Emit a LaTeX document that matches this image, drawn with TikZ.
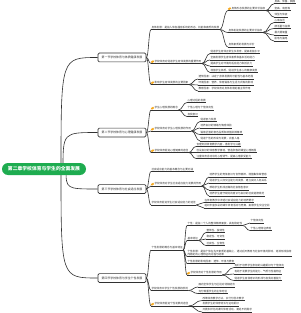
\documentclass[tikz,border=0pt]{standalone}
\usepackage{fontspec}
\setmainfont{Noto Sans CJK SC}
\usetikzlibrary{calc}
\definecolor{rootgreen}{RGB}{30,172,80}
\definecolor{ink}{RGB}{50,50,50}
\definecolor{iconorange}{RGB}{246,168,30}
\tikzset{
  itx/.style={font=\fontsize{2.6}{3.3}\selectfont, text=ink, inner xsep=0.3pt, inner ysep=0.7pt, anchor=south west},
  uline/.style={draw=ink, line width=0.85pt},
  conn/.style={draw=ink, line width=0.6pt},
  lvl/.style={draw=ink, line width=0.7pt, rounded corners=1.2pt, fill=white, minimum width=48pt, minimum height=8.8pt, inner sep=0pt, font=\fontsize{2.9}{3.5}\selectfont, text=ink},
  rootbox/.style={fill=rootgreen, rounded corners=6pt, minimum width=84pt, minimum height=12pt, inner sep=0pt, text=white, font=\fontsize{4.8}{5.5}\selectfont\bfseries},
  icn/.style={fill=iconorange, minimum width=2.8pt, minimum height=1.8pt, inner sep=0pt, rotate=35}
}
\newcommand{\itm}[4]{%
  \coordinate (#1s) at (#2,#3);
  \node[itx] (#1) at (#1s) {#4};
  \draw[uline] (#1s) -- (#1.south east);}
\newcommand{\itmi}[4]{%
  \coordinate (#1s) at (#2,#3);
  \node[icn] (#1i) at ([shift={(1.5,-1.8)}]#1s) {};
  \node[itx] (#1) at ([xshift=3pt]#1s) {#4};
  \draw[uline] (#1s) -- (#1.south east);}
\newcommand{\cn}[2]{\draw[conn] let \p1=(#1), \p2=(#2) in (\p1) .. controls ({0.5*\x1+0.5*\x2},\y1) and ({0.5*\x1+0.5*\x2},\y2) .. (\p2);}
\newcommand{\fan}[2]{\foreach \ch in {#2}{\cn{#1}{\ch s}}}
\newcommand{\rcn}[2]{\draw[conn] let \p1=(#1), \p2=(#2) in (\p1) .. controls (\x1,\y2) .. (\p2);}
\begin{document}
\begin{tikzpicture}[x=1pt,y=-1pt]
\useasboundingbox (0,0) rectangle (300,313);
\fill[white] (0,0) rectangle (300,313);
% root connectors
\coordinate (rc1) at (61,169);
\coordinate (rc2) at (63,169);
\coordinate (rc3) at (66,169);
\coordinate (rc4) at (61,169);
\node[lvl] (b1) at (122,57.5) {第一节学校体育与体质健康发展};
\node[lvl] (b2) at (122,132.5) {第二节学校体育与心理健康发展};
\node[lvl] (b3) at (122,189) {第三节学校体育与社会适应发展};
\node[lvl] (b4) at (122,278) {第四节学校体育与学生个性发展};
\rcn{rc1}{b1.west}
\rcn{rc2}{b2.west}
\rcn{rc3}{b3.west}
\rcn{rc4}{b4.west}
\node[rootbox] (root) at (44,169) {第二章学校体育与学生的全面发展};
% ---- section 1
\itm{A}{151}{29.5}{身体发展：是指人体各器官系统的形态、机能和素质的发展}
\itmi{Aa}{228}{10.5}{身体形态发展的主要评价指标}
\itm{Aaa}{274}{3.8}{身高、体重、胸围}
\itm{Aab}{274}{10.5}{坐高、肩宽等}
\itm{Aac}{274}{17}{体型与体姿}
\itm{Ab}{228}{32.5}{身体机能发展的主要评价指标}
\itm{Aba}{274}{22.5}{心率血压}
\itm{Abb}{274}{28.5}{肺活量与指数}
\itm{Abc}{274}{35}{最大摄氧量}
\itm{Abd}{274}{41}{肌电与脑电}
\itm{Ac}{228}{47}{身体素质的发展与评价}
\itmi{B}{151}{63.5}{学校体育对促进学生身体发展的重要作用}
\itm{Ba}{210}{53.5}{促进学生身体正常生长发育，提高机能水平}
\itm{Bb}{210}{60}{全面发展学生身体素质和基本活动能力}
\itm{Bc}{210}{66}{提高学生对环境的适应能力和抵抗力}
\itm{Bd}{210}{72.5}{增强学生体质，促进学生身心的健康发展}
\itmi{C}{151}{84.5}{影响学生身体发展的主要因素}
\itm{Ca}{198}{79}{遗传因素：决定了身体发展的可能性与基本范围}
\itm{Cb}{198}{85}{环境因素：营养、体育锻炼与生活方式等的影响}
\itm{Cc}{198}{91}{教育因素：学校体育对身体发展起着主导作用}
\fan{b1.east}{A,B,C}
\fan{A.south east}{Aa,Ab,Ac}
\fan{Aa.south east}{Aaa,Aab,Aac}
\fan{Ab.south east}{Aba,Abb,Abc,Abd}
\fan{B.south east}{Ba,Bb,Bc,Bd}
\fan{C.south east}{Ca,Cb,Cc}
% ---- section 2
\itmi{D}{151}{110}{学生心理发展的概念}
\itm{Da}{187}{102.5}{心理过程的发展}
\itm{Db}{187}{110}{个性心理与个性倾向性}
\itm{Dc}{187}{116.5}{自我意识}
\itmi{E}{151}{131}{学校体育对学生心理发展的作用}
\itm{Ea}{200}{121.5}{促进智力发展}
\itm{Eb}{200}{128}{培养良好的情绪与情感体验}
\itm{Ec}{200}{134.5}{锻炼坚强的意志品质和顽强拼搏精神}
\itm{Ed}{200}{141}{促进个性的形成与发展，完善人格}
\itmi{F}{151}{152.5}{学校体育促进心理健康的途径}
\itm{Fa}{196}{146.5}{合理安排体育教学内容，激发学习兴趣}
\itm{Fb}{196}{152.5}{创设良好的体育教学情境，营造积极的课堂心理氛围}
\itm{Fc}{196}{158.5}{注重体育活动中的心理调节，提高心理承受能力}
\fan{b2.east}{D,E,F}
\fan{D.south east}{Da,Db,Dc}
\fan{E.south east}{Ea,Eb,Ec,Ed}
\fan{F.south east}{Fa,Fb,Fc}
% ---- section 3
\itm{G}{151}{171.5}{社会适应能力的基本概念与主要内涵}
\itmi{H}{151}{186}{学校体育对学生社会适应能力发展的作用}
\itm{Ha}{209}{177}{培养学生的竞争意识与合作精神，增强集体荣誉感}
\itm{Hb}{209}{183}{促进学生人际交往能力的发展，建立良好人际关系}
\itm{Hc}{209}{190}{帮助学生形成正确的社会角色意识}
\itm{Hd}{209}{196}{培养学生遵守规则的意识与良好的社会道德规范}
\itm{I}{151}{205}{学校体育促进学生社会适应能力的途径}
\itm{Ia}{204}{202.5}{在体育教学中渗透社会适应能力的培养要求}
\itm{Ib}{204}{208}{组织丰富多彩的课外体育活动与竞赛，拓展学生交往空间}
\fan{b3.east}{G,H,I}
\fan{H.south east}{Ha,Hb,Hc,Hd}
\fan{I.south east}{Ia,Ib}
% ---- section 4
\itm{J}{151}{250}{个性发展的概念与基本特征}
\itm{Ja}{187}{225.5}{个性：是指一个人的整体精神面貌，具有稳定性}
\itm{Jaa}{250}{223}{个性倾向性}
\itm{Jab}{250}{230.5}{个性心理特征表现}
\itm{Jb}{187}{240.5}{基本特征}
\itm{Jba}{206}{232.5}{整体性、独特性}
\itm{Jbb}{206}{239}{稳定性、可变性}
\itm{Jbc}{206}{245.5}{社会性、生物性}
\coordinate (Jcs) at (187,256.5);
\node[itx, align=left] (Jc) at (Jcs) {个性发展：是指个体在先天素质的基础上，通过后天教育与社会环境的影响，逐渐形成独特\\而稳定的心理特征的过程与结果};
\draw[uline] (Jcs) -- (Jc.south east);
\itm{Jd}{187}{263.5}{个性发展的影响因素：遗传、环境与教育}
\itmi{Je}{187}{275}{学校体育对个性发展的作用}
\itm{Jea}{234}{267.5}{有利于培养学生积极的兴趣爱好与个性倾向}
\itm{Jeb}{234}{274}{有助于发展学生的能力、气质与性格特征}
\itm{Jec}{234}{280.5}{促进学生自我意识的形成与自我完善能力}
\itm{K}{151}{290.5}{学校体育中学生个性发展的原则}
\itm{Ka}{198}{287}{面向全体学生与区别对待相结合}
\itm{Kb}{198}{293.5}{充分尊重学生的主体地位}
\itmi{L}{151}{306}{学校体育促进个性发展的途径}
\itm{La}{202}{300.5}{改革体育教学方法，实行分层次教学}
\itm{Lb}{202}{306}{发展学生的体育特长与运动爱好}
\itm{Lc}{202}{312}{开展多样化的课外体育活动，满足不同需求}
\fan{b4.east}{J,K,L}
\fan{J.south east}{Ja,Jb,Jc,Jd,Je}
\fan{Ja.south east}{Jaa,Jab}
\fan{Jb.south east}{Jba,Jbb,Jbc}
\fan{Je.south east}{Jea,Jeb,Jec}
\fan{K.south east}{Ka,Kb}
\fan{L.south east}{La,Lb,Lc}
\end{tikzpicture}
\end{document}
